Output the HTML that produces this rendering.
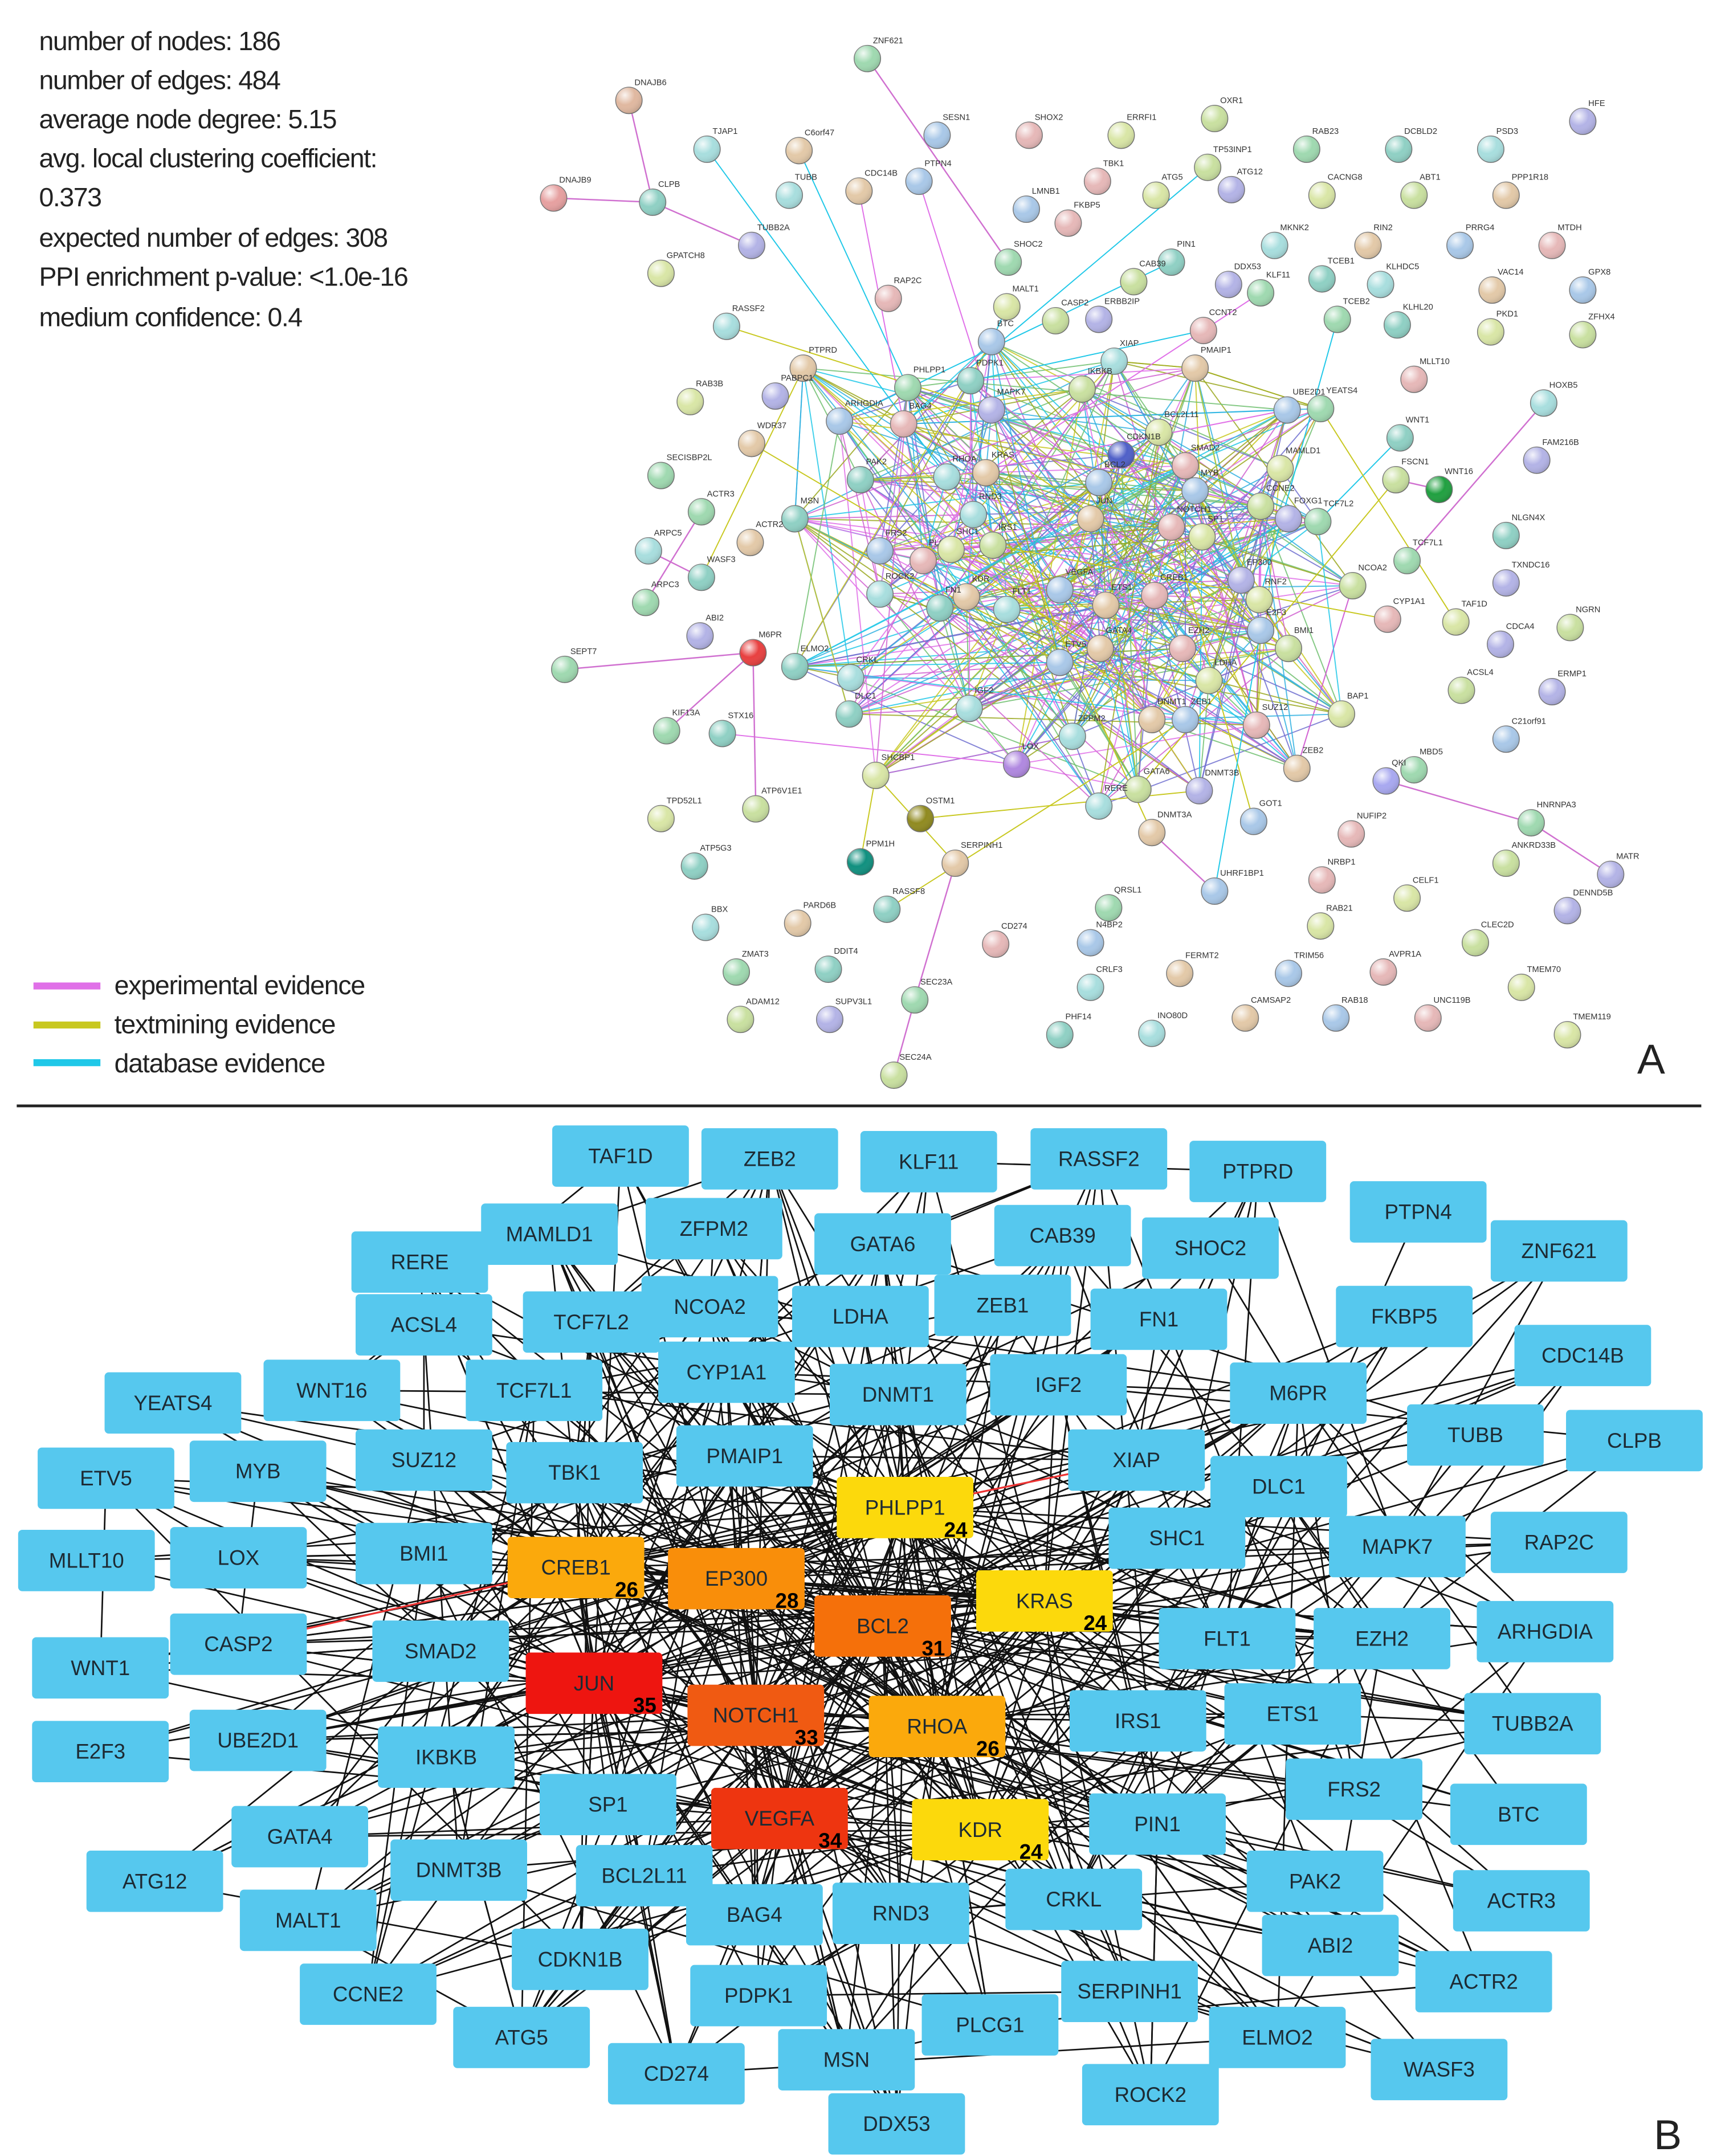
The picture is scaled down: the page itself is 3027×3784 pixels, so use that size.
<!DOCTYPE html>
<html><head><meta charset="utf-8"><style>
html,body{margin:0;padding:0;background:#fff;}
svg{display:block;}
.st{font-family:"Liberation Sans",sans-serif;font-size:19px;fill:#222;letter-spacing:-0.6px;}
.lg{font-family:"Liberation Sans",sans-serif;font-size:19px;fill:#222;letter-spacing:-0.5px;}
.nl{font-family:"Liberation Sans",sans-serif;font-size:6px;fill:#333;}
.bl{font-family:"Liberation Sans",sans-serif;font-size:15px;fill:#1d2a33;text-anchor:middle;dominant-baseline:central;}
.nm{font-family:"Liberation Sans",sans-serif;font-size:15px;font-weight:bold;fill:#000;}
</style></head><body>
<svg id="s" width="3027" height="3784" viewBox="0 0 1237 1546" preserveAspectRatio="none" xmlns="http://www.w3.org/2000/svg">
<defs>
<radialGradient id="gl" cx="35%" cy="30%" r="75%"><stop offset="0" stop-color="#fff" stop-opacity="0.85"/><stop offset="0.5" stop-color="#fff" stop-opacity="0"/><stop offset="1" stop-color="#000" stop-opacity="0.15"/></radialGradient>
</defs>
<rect width="1237" height="1546" fill="#fff"/>
<g id="ea"></g>
<g id="na"></g>
<text class="st" x="28" y="36">number of nodes: 186</text>
<text class="st" x="28" y="64">number of edges: 484</text>
<text class="st" x="28" y="92">average node degree: 5.15</text>
<text class="st" x="28" y="120">avg. local clustering coefficient:</text>
<text class="st" x="28" y="148">0.373</text>
<text class="st" x="28" y="177">expected number of edges: 308</text>
<text class="st" x="28" y="205">PPI enrichment p-value: &lt;1.0e-16</text>
<text class="st" x="28" y="234">medium confidence: 0.4</text>
<line x1="24" y1="707" x2="72" y2="707" stroke="#e070e8" stroke-width="5"/>
<line x1="24" y1="735" x2="72" y2="735" stroke="#c8c820" stroke-width="5"/>
<line x1="24" y1="762" x2="72" y2="762" stroke="#20c8e8" stroke-width="5"/>
<text class="lg" x="82" y="713">experimental evidence</text>
<text class="lg" x="82" y="741">textmining evidence</text>
<text class="lg" x="82" y="769">database evidence</text>
<text x="1174" y="770" font-family="Liberation Sans,sans-serif" font-size="30" fill="#222">A</text>
<line x1="12" y1="793" x2="1220" y2="793" stroke="#222" stroke-width="2"/>
<g id="eb"></g>
<g id="nb"></g>
<text x="1186" y="1541" font-family="Liberation Sans,sans-serif" font-size="30" fill="#222">B</text>
</svg>
<script>
var NS="http://www.w3.org/2000/svg";
function el(t,a,p){var e=document.createElementNS(NS,t);for(var k in a)e.setAttribute(k,a[k]);p.appendChild(e);return e;}
var seed=12345;function rnd(){seed=(seed*1103515245+12345)%2147483648;return seed/2147483648;}
var A="ZNF621 622 42;DNAJB6 451 72;TJAP1 507 107;C6orf47 573 108;SESN1 672 97;SHOX2 738 97;ERRFI1 804 97;OXR1 871 85;HFE 1135 87;DNAJB9 397 142;CLPB 468 145;TUBB 566 140;CDC14B 616 137;PTPN4 659 130;TBK1 787 130;ATG5 829 140;TP53INP1 866 120;ATG12 883 136;RAB23 937 107;DCBLD2 1003 107;PSD3 1069 107;PPP1R18 1080 140;LMNB1 736 150;FKBP5 766 160;CACNG8 948 140;ABT1 1014 140;TUBB2A 539 176;SHOC2 723 188;PIN1 840 188;MKNK2 914 176;RIN2 981 176;PRRG4 1047 176;MTDH 1113 176;GPATCH8 474 196;CAB39 813 202;DDX53 881 204;KLF11 904 210;TCEB1 948 200;KLHDC5 990 204;VAC14 1070 208;GPX8 1135 208;RAP2C 637 214;MALT1 722 220;CASP2 757 230;ERBB2IP 788 229;TCEB2 959 229;KLHL20 1002 233;RASSF2 521 234;PTPRD 576 264;BTC 711 245;CCNT2 863 237;PKD1 1069 238;ZFHX4 1135 240;PABPC1 556 284;PHLPP1 651 278;PDPK1 696 273;XIAP 799 259;PMAIP1 857 264;UBE2D1 923 294;MLLT10 1014 272;RAB3B 495 288;IKBKB 776 279;MAPK7 711 294;YEATS4 947 293;WNT1 1004 314;HOXB5 1107 289;WDR37 539 318;ARHGDIA 602 302;BAG4 648 304;BCL2L11 831 310;CDKN1B 804 326;FAM216B 1102 330;SECISBP2L 474 341;PAK2 617 344;RHOA 679 342;KRAS 707 339;BCL2 788 346;SMAD2 850 334;MAMLD1 918 336;FSCN1 1001 344;WNT16 1032 351;ACTR3 503 367;MSN 570 372;RND3 698 369;JUN 782 372;MYB 857 352;NOTCH1 840 378;SP1 862 385;CCNE2 904 363;FOXG1 924 372;TCF7L2 945 374;NLGN4X 1080 384;ARPC5 465 395;ACTR2 538 389;FRS2 631 395;PLCG1 662 402;SHC1 682 394;IRS1 712 391;EP300 890 416;TCF7L1 1009 402;WASF3 503 414;ROCK2 631 426;KDR 693 428;VEGFA 760 423;CREB1 828 427;RNF2 903 430;NCOA2 970 420;TXNDC16 1080 418;ARPC3 463 432;FN1 674 436;FLT1 722 437;ETS1 793 434;E2F3 904 452;CYP1A1 995 444;TAF1D 1044 446;NGRN 1126 450;ABI2 502 456;M6PR 540 468;ELMO2 570 478;CRKL 610 486;GATA4 789 465;ETV5 760 475;EZH2 848 465;LDHA 867 488;BMI1 924 465;CDCA4 1076 462;SEPT7 405 480;DLC1 609 512;IGF2 695 508;DNMT1 826 516;ZEB1 850 516;SUZ12 901 520;BAP1 962 512;ACSL4 1048 495;ERMP1 1113 496;KIF13A 478 524;STX16 518 526;ZFPM2 769 528;ZEB2 930 551;C21orf91 1080 530;LOX 729 548;SHCBP1 628 556;GATA6 816 566;DNMT3B 860 567;MBD5 1014 552;QKI 994 560;RERE 788 578;DNMT3A 826 597;GOT1 899 589;NUFIP2 969 598;TPD52L1 474 587;ATP6V1E1 542 580;OSTM1 660 587;HNRNPA3 1098 590;ATP5G3 498 621;PPM1H 617 618;SERPINH1 685 619;UHRF1BP1 871 639;NRBP1 948 631;CELF1 1009 644;ANKRD33B 1080 619;MATR 1155 627;QRSL1 795 651;RASSF8 636 652;BBX 506 665;PARD6B 572 662;N4BP2 782 676;CD274 714 677;RAB21 947 664;CLEC2D 1058 676;DENND5B 1124 653;ZMAT3 528 697;DDIT4 594 695;CRLF3 782 708;FERMT2 846 698;TRIM56 924 698;AVPR1A 992 697;TMEM70 1091 708;ADAM12 531 731;SUPV3L1 595 731;SEC23A 656 717;PHF14 760 742;INO80D 826 741;CAMSAP2 893 730;RAB18 958 730;UNC119B 1024 730;TMEM119 1124 742;SEC24A 641 771;ARPC2 470 360;SHOC2B 700 150;RAB3C 770 110".split(";").map(function(s){var p=s.split(" ");return{n:p[0],x:+p[1],y:+p[2]};});
A=A.filter(function(d){return d.n!="SHOC2B"&&d.n!="RAB3C"&&d.n!="ARPC2";});
var pal=["#9fd9b0","#a9c8e8","#b3b3e6","#e3c9a8","#c9e0a0","#a8dede","#d9e6a6","#8fd0c4","#e6b8b8"];
var special={M6PR:"#e84040",WNT16:"#20a040",PPM1H:"#10907f",OSTM1:"#908a20",CDKN1B:"#5060c8",DNAJB9:"#e6a0a0",DNAJB6:"#e0b8a0",LOX:"#b088e0",QKI:"#a8a8f0"};
var ea=document.getElementById("ea"),na=document.getElementById("na");
var ecol=["#e070e8","#c8c820","#20c8e8","#d060d0","#9aa820","#30b0e0","#7070d0","#70c070"];
function central(d){return d.x>560&&d.x<980&&d.y>240&&d.y<580;}
var C=A.filter(central);
for(var i=0;i<520;i++){var a=C[Math.floor(rnd()*C.length)],b=C[Math.floor(rnd()*C.length)];if(a==b)continue;
el("line",{x1:a.x,y1:a.y,x2:b.x,y2:b.y,stroke:ecol[Math.floor(rnd()*ecol.length)],"stroke-width":0.8,"stroke-opacity":0.85},ea);}
A.forEach(function(d){if(!central(d)&&rnd()<0.55&&d.y<720){var b=C[Math.floor(rnd()*C.length)];var dx=b.x-d.x,dy=b.y-d.y;if(dx*dx+dy*dy<90000)el("line",{x1:d.x,y1:d.y,x2:b.x,y2:b.y,stroke:ecol[Math.floor(rnd()*3)],"stroke-width":0.8},ea);}});
[["DNAJB6","CLPB"],["DNAJB9","CLPB"],["CLPB","TUBB2A"],["ZNF621","SHOC2"],["SEPT7","M6PR"],["KIF13A","M6PR"],["SEC24A","SEC23A"],["SEC23A","SERPINH1"],["HNRNPA3","QKI"],["MATR","HNRNPA3"],["FSCN1","WNT16"],["HOXB5","TCF7L1"],["UHRF1BP1","DNMT3A"],["ATP6V1E1","M6PR"],["ARPC3","ACTR3"],["ARPC5","WASF3"]].forEach(function(p){var a=A.find(function(d){return d.n==p[0]}),b=A.find(function(d){return d.n==p[1]});if(a&&b)el("line",{x1:a.x,y1:a.y,x2:b.x,y2:b.y,stroke:"#d070d0","stroke-width":1},ea);});
A.forEach(function(d,i){var c=special[d.n]||pal[(i*7)%pal.length];
el("circle",{cx:d.x,cy:d.y,r:9.5,fill:c,stroke:"#777","stroke-width":0.6},na);
el("circle",{cx:d.x,cy:d.y,r:9.5,fill:"url(#gl)"},na);
var t=el("text",{x:d.x+4,y:d.y-11,"class":"nl"},na);t.textContent=d.n;});
var B="TAF1D 445 829;ZEB2 552 831;KLF11 666 833;RASSF2 788 831;PTPRD 902 840;PTPN4 1017 869;ZNF621 1118 897;RERE 301 905;MAMLD1 394 885;ZFPM2 512 881;GATA6 633 892;CAB39 762 886;SHOC2 868 895;ACSL4 304 950;TCF7L2 424 948;NCOA2 509 937;LDHA 617 944;ZEB1 719 936;FN1 831 946;FKBP5 1007 944;CDC14B 1135 972;YEATS4 124 1006;WNT16 238 997;TCF7L1 383 997;CYP1A1 521 984;DNMT1 644 1000;IGF2 759 993;M6PR 931 999;TUBB 1058 1029;CLPB 1172 1033;ETV5 76 1060;MYB 185 1055;SUZ12 304 1047;TBK1 412 1056;PMAIP1 534 1044;XIAP 815 1047;DLC1 917 1066;MLLT10 62 1119;LOX 171 1117;BMI1 304 1114;SHC1 844 1103;MAPK7 1002 1109;RAP2C 1118 1106;CASP2 171 1179;WNT1 72 1196;SMAD2 316 1184;FLT1 880 1175;EZH2 991 1175;ARHGDIA 1108 1170;E2F3 72 1256;UBE2D1 185 1248;IKBKB 320 1260;IRS1 816 1234;ETS1 927 1229;TUBB2A 1099 1236;SP1 436 1294;PIN1 830 1308;FRS2 971 1283;BTC 1089 1301;GATA4 215 1317;DNMT3B 329 1341;BCL2L11 462 1345;ATG12 111 1349;PAK2 943 1349;ACTR3 1091 1363;MALT1 221 1377;BAG4 541 1373;RND3 646 1372;CRKL 770 1362;ABI2 954 1395;CDKN1B 416 1405;ACTR2 1064 1421;CCNE2 264 1430;PDPK1 544 1431;SERPINH1 810 1428;PLCG1 710 1452;ATG5 374 1461;ELMO2 916 1461;CD274 485 1487;MSN 607 1477;WASF3 1032 1484;ROCK2 825 1502;DDX53 643 1523".split(";").map(function(s){var p=s.split(" ");return{n:p[0],x:+p[1],y:+p[2],c:"#56c8ee"};});
var H=[["CREB1",413,1124,"#fba90c",26],["EP300",528,1132,"#f98e0a",28],["PHLPP1",649,1081,"#fcd90c",24],["KRAS",749,1148,"#fcd90c",24],["BCL2",633,1166,"#f5700a",31],["JUN",426,1207,"#ee1510",35],["NOTCH1",542,1230,"#f05a12",33],["RHOA",672,1238,"#fba90c",26],["VEGFA",559,1304,"#ee3510",34],["KDR",703,1312,"#fcd90c",24]];
var hubs=H.map(function(h){return{n:h[0],x:h[1],y:h[2],c:h[3],k:h[4]};});
var all=B.concat(hubs);
var eb=document.getElementById("eb"),nb=document.getElementById("nb");
function ln(a,b,col,w){el("line",{x1:a.x,y1:a.y,x2:b.x,y2:b.y,stroke:col||"#111","stroke-width":w||1.1},eb);}
var mid=all.filter(function(d){return d.x>250&&d.x<1000&&d.y>960&&d.y<1420;});
for(var i=0;i<hubs.length;i++){for(var j=0;j<34;j++){ln(hubs[i],all[Math.floor(rnd()*all.length)]);}}
for(var i=0;i<420;i++){var a=all[Math.floor(rnd()*all.length)];var b=rnd()<0.6?mid[Math.floor(rnd()*mid.length)]:all[Math.floor(rnd()*all.length)];
var dx=a.x-b.x,dy=a.y-b.y;if(a!=b&&dx*dx+dy*dy<250000)ln(a,b);}
ln({x:171,y:1179},{x:413,y:1124},"#e33",1.3);ln({x:649,y:1081},{x:815,y:1047},"#e33",1.3);
all.forEach(function(d){
el("rect",{x:d.x-49,y:d.y-22,width:98,height:44,rx:3,fill:d.c},nb);
var t=el("text",{x:d.x,y:d.y,"class":"bl"},nb);t.textContent=d.n;
if(d.k){var n=el("text",{x:d.x+28,y:d.y+21,"class":"nm"},nb);n.textContent=d.k;}});
</script>
</body></html>
